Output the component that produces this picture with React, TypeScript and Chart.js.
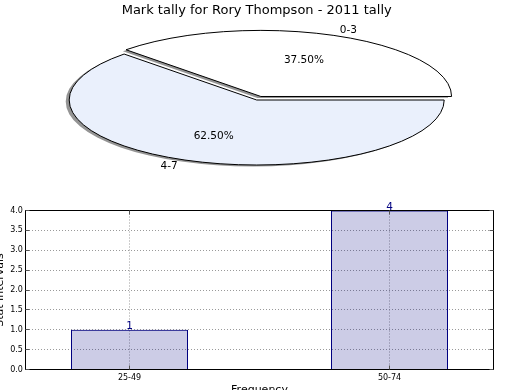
import React, { useEffect, useRef } from "react";
import { Chart, registerables } from "chart.js";

Chart.register(...registerables);

// ---------- data ----------
const pieTitle = "Mark tally for Rory Thompson - 2011 tally";
const pieLabels = ["0-3", "4-7"];
const pieValues = [3, 5];
const pieColors = ["#ffffff", "#eaf0fc"];
const pieOffsets = [17, 0];

const barCategories = ["25-49", "50-74"];
const barValues = [1, 4];
const yAxisTitle = "Stat Intervals";
const xAxisTitle = "Frequency";
const yMin = 0;
const yMax = 4;
const yStep = 0.5;

// ---------- style ----------
const FONT = "'DejaVu Sans', sans-serif";
const PIE_RX = 187.5;
const PIE_RY = 65;

const ellipsePie = {
  id: "ellipsePie",
  beforeDatasetsDraw(chart: any) {
    const meta = chart.getDatasetMeta(0);
    const a0 = meta.data[0];
    const { x, y, outerRadius } = a0.getProps(["x", "y", "outerRadius"], true);
    const ctx = chart.ctx;
    ctx.save();
    ctx.shadowColor = "rgba(60,60,60,0.55)";
    ctx.shadowOffsetX = -3.5;
    ctx.shadowOffsetY = 1.5;
    ctx.shadowBlur = 0;
    ctx.translate(x, y);
    ctx.scale(PIE_RX / outerRadius, PIE_RY / outerRadius);
    ctx.translate(-x, -y);
  },
  afterDatasetsDraw(chart: any) {
    const ctx = chart.ctx;
    ctx.restore();
    const meta = chart.getDatasetMeta(0);
    const total = pieValues.reduce((a, b) => a + b, 0);
    meta.data.forEach((arc: any, i: number) => {
      const p = arc.getProps(
        ["x", "y", "startAngle", "endAngle", "outerRadius", "circumference"],
        true
      );
      const sx = PIE_RX / p.outerRadius;
      const sy = PIE_RY / p.outerRadius;
      const off = (arc.options.offset || 0) / 4;
      const mid = (p.startAngle + p.endAngle) / 2;
      const fix = 1 - Math.sin(Math.min(Math.PI, p.circumference || 0));
      const ux = p.x + Math.cos(mid) * off;
      const uy = p.y + Math.sin(mid) * off;
      const r = p.outerRadius + off * fix;
      // outline with uniform stroke width
      ctx.save();
      ctx.translate(p.x, p.y);
      ctx.scale(sx, sy);
      ctx.translate(-p.x, -p.y);
      ctx.beginPath();
      ctx.moveTo(ux, uy);
      ctx.arc(ux, uy, r, p.startAngle, p.endAngle);
      ctx.closePath();
      ctx.restore();
      ctx.save();
      ctx.lineWidth = 1;
      ctx.strokeStyle = "#000";
      ctx.stroke();
      ctx.restore();
      // labels
      const ecx = p.x + (ux - p.x) * sx;
      const ecy = p.y + (uy - p.y) * sy;
      const c = Math.cos(mid);
      const s = Math.sin(mid);
      ctx.save();
      ctx.font = `10.5px ${FONT}`;
      ctx.fillStyle = "#000";
      ctx.textBaseline = "middle";
      ctx.textAlign = c > 0 ? "left" : "right";
      ctx.fillText(pieLabels[i], ecx + 1.1 * PIE_RX * c, ecy + 1.1 * PIE_RY * s);
      ctx.textAlign = "center";
      const pct = ((pieValues[i] / total) * 100).toFixed(2) + "%";
      ctx.fillText(pct, ecx + 0.6 * PIE_RX * c, ecy + 0.6 * PIE_RY * s);
      ctx.restore();
    });
  },
};

const align = (v: number) => Math.round(v - 0.5) + 0.5;

const boxAndLabels = {
  id: "boxAndLabels",
  afterDraw(chart: any) {
    const { ctx, chartArea } = chart;
    const { left, right, top, bottom } = chartArea;
    ctx.save();
    ctx.strokeStyle = "#000";
    ctx.lineWidth = 1;
    ctx.strokeRect(left, top, right - left, bottom - top);
    // inner tick marks
    ctx.strokeStyle = "#555";
    const ys = chart.scales.y;
    ys.ticks.forEach((t: any) => {
      const py = align(ys.getPixelForValue(t.value));
      ctx.beginPath();
      ctx.moveTo(left, py);
      ctx.lineTo(left + 4, py);
      ctx.moveTo(right - 4, py);
      ctx.lineTo(right, py);
      ctx.stroke();
    });
    const xs = chart.scales.x;
    xs.ticks.forEach((t: any) => {
      const px = align(xs.getPixelForValue(t.value));
      ctx.beginPath();
      ctx.moveTo(px, bottom);
      ctx.lineTo(px, bottom - 4);
      ctx.moveTo(px, top);
      ctx.lineTo(px, top + 4);
      ctx.stroke();
    });
    // value labels
    const meta = chart.getDatasetMeta(0);
    ctx.font = `10.5px ${FONT}`;
    ctx.fillStyle = "#000080";
    ctx.textAlign = "center";
    ctx.textBaseline = "alphabetic";
    meta.data.forEach((bar: any, i: number) => {
      const { x, y } = bar.getProps(["x", "y"], true);
      ctx.fillText(String(barValues[i]), x, y - 1);
    });
    ctx.restore();
  },
};

export default function App() {
  const pieRef = useRef<HTMLCanvasElement>(null);
  const barRef = useRef<HTMLCanvasElement>(null);

  useEffect(() => {
    const pie = new Chart(pieRef.current!, {
      type: "pie",
      data: {
        labels: pieLabels,
        datasets: [
          {
            data: pieValues,
            backgroundColor: pieColors,
            borderWidth: 0,
            offset: pieOffsets,
            clip: false,
          } as any,
        ],
      },
      options: {
        animation: false,
        responsive: false,
        maintainAspectRatio: false,
        rotation: -45,
        layout: { padding: { left: 0, right: 6.6, top: 0, bottom: 13.6 } },
        plugins: {
          legend: { display: false },
          tooltip: { enabled: false },
          title: {
            display: true,
            text: pieTitle,
            color: "#000",
            font: { family: FONT, size: 13, weight: "normal" },
            padding: { top: 3, bottom: 0 },
          },
        },
      } as any,
      plugins: [ellipsePie],
    });

    const grid = { color: "#9a9a9a", lineWidth: 1, drawTicks: false, offset: false };
    const border = { display: false, dash: [1, 2] };
    const bar = new Chart(barRef.current!, {
      type: "bar",
      data: {
        datasets: [
          {
            data: barCategories.map((_, i) => ({ x: i, y: barValues[i] })),
            backgroundColor: "rgba(0,0,128,0.2)",
            borderColor: "#000080",
            borderWidth: 1,
            barPercentage: 0.45,
            categoryPercentage: 1,
          } as any,
        ],
      },
      options: {
        animation: false,
        responsive: false,
        maintainAspectRatio: false,
        layout: { padding: { left: 0, right: 26.5, top: 15.5, bottom: 0 } },
        plugins: { legend: { display: false }, tooltip: { enabled: false } },
        scales: {
          x: {
            type: "linear",
            min: -0.4,
            max: 1.4,
            offset: false,
            z: 1,
            afterBuildTicks: (s: any) => {
              s.ticks = barCategories.map((_, i) => ({ value: i }));
            },
            afterFit: (s: any) => {
              s.height = 40.5;
            },
            ticks: {
              autoSkip: false,
              maxRotation: 0,
              padding: 3.4,
              color: "#000",
              font: { family: FONT, size: 8 },
              callback: (v: any) => barCategories[v as number],
            },
            grid,
            border,
            title: {
              display: true,
              text: xAxisTitle,
              color: "#000",
              font: { family: FONT, size: 11 },
              padding: { top: 0, bottom: 12.9 },
            },
          },
          y: {
            min: yMin,
            max: yMax,
            z: 1,
            afterFit: (s: any) => {
              s.width = 35.5;
            },
            ticks: {
              stepSize: yStep,
              padding: 2.6,
              color: "#000",
              font: { family: FONT, size: 8 },
              callback: (v: any) => Number(v).toFixed(1),
            },
            grid,
            border,
            title: {
              display: true,
              text: yAxisTitle,
              color: "#000",
              font: { family: FONT, size: 11 },
              padding: { top: 3.7, bottom: 0 },
            },
          },
        },
      } as any,
      plugins: [boxAndLabels],
    });

    return () => {
      pie.destroy();
      bar.destroy();
    };
  }, []);

  return (
    <div
      style={{
        position: "fixed",
        left: 0,
        top: 0,
        width: 520,
        height: 390,
        overflow: "hidden",
        background: "#fff",
      }}
    >
      <canvas
        ref={pieRef}
        width={520}
        height={195}
        style={{ position: "absolute", left: 0, top: 0, width: 520, height: 195 }}
      />
      <canvas
        ref={barRef}
        width={530}
        height={215}
        style={{ position: "absolute", left: -10, top: 195, width: 530, height: 215 }}
      />
    </div>
  );
}
